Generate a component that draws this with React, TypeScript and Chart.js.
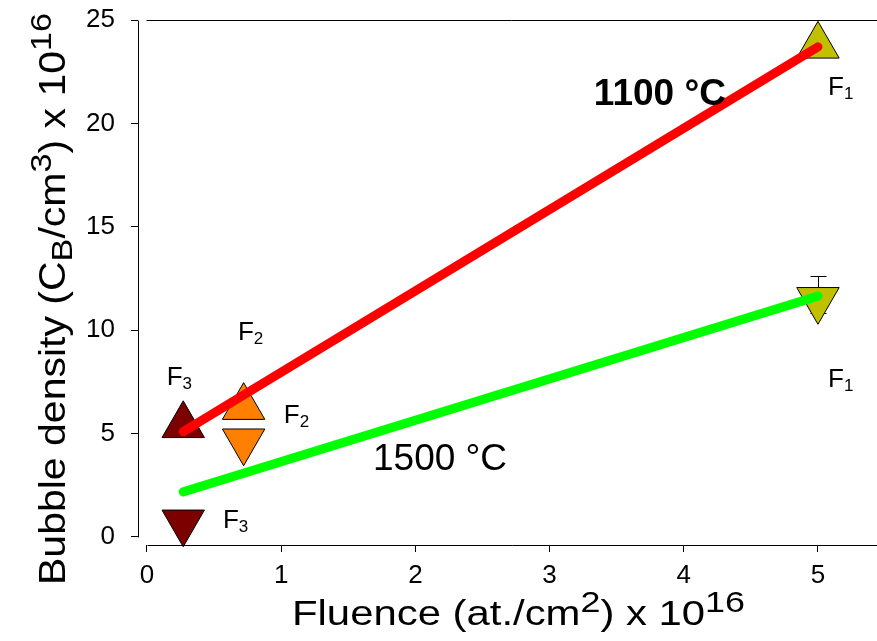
import React, { useEffect, useRef } from "react";
import { Chart, registerables } from "chart.js";
Chart.register(...registerables);

// ---- data ----
const xTicks = [0, 1, 2, 3, 4, 5];
const yTicks = [0, 5, 10, 15, 20, 25];

const line1100X = [0.27, 5.0];
const line1100Y = [5.1, 23.7];
const line1500X = [0.27, 5.0];
const line1500Y = [2.18, 11.65];

const markerNames = ["F1", "F2", "F3"];
const markerX = [5.0, 0.72, 0.27];
const markerUpY = [23.75, 6.28, 5.4];
const markerDownY = [11.47, 4.63, 0.71];
const markerColors = ["#c0c000", "#ff8000", "#7d0000"];

// error bar on F1 (down)
const errX = [5.0];
const errLow = [10.85];
const errHigh = [12.6];

// text labels (data coordinates: left, baseline)
const labelMain = ["F", "F", "F", "F", "F", "F"];
const labelSub = ["1", "1", "2", "2", "3", "3"];
const labelX = [5.075, 5.075, 0.678, 1.02, 0.147, 0.566];
const labelY = [21.37, 7.25, 9.53, 5.51, 7.35, 0.42];

const tempText = ["1100 °C", "1500 °C"];
const tempX = [3.33, 1.684];
const tempY = [20.9, 3.24];
const tempBold = [true, false];

const SANS = "'Liberation Sans', Arial, sans-serif";
const NARROW = "'Liberation Sans Narrow', 'Arial Narrow', 'Liberation Sans', sans-serif";

type Part = { t: string; size: number; dy: number; family: string; weight?: string };

function partsWidth(ctx: CanvasRenderingContext2D, parts: Part[]) {
  let w = 0;
  for (const p of parts) {
    ctx.font = `${p.weight || "normal"} ${p.size}px ${p.family}`;
    w += ctx.measureText(p.t).width;
  }
  return w;
}
function drawParts(ctx: CanvasRenderingContext2D, parts: Part[], x: number, y: number) {
  let cx = x;
  ctx.textAlign = "left";
  ctx.textBaseline = "alphabetic";
  for (const p of parts) {
    ctx.font = `${p.weight || "normal"} ${p.size}px ${p.family}`;
    ctx.fillText(p.t, cx, y + p.dy);
    cx += ctx.measureText(p.t).width;
  }
}

const decorPlugin = {
  id: "decor",
  beforeDatasetsDraw(chart: any) {
    const ctx = chart.ctx as CanvasRenderingContext2D;
    const xs = chart.scales.x;
    const ys = chart.scales.y;
    const ca = chart.chartArea;
    ctx.save();
    ctx.strokeStyle = "#000";
    ctx.lineWidth = 1;
    const x0 = Math.round(xs.getPixelForValue(0)) + 0.5;
    const yTop = Math.round(ys.getPixelForValue(yTicks[yTicks.length - 1])) + 0.5;
    const yZero = Math.round(ys.getPixelForValue(0)) + 0.5;
    ctx.beginPath();
    ctx.moveTo(Math.round(ca.left) + 0.5, yTop);
    ctx.lineTo(Math.round(ca.left) + 0.5, yZero);
    ctx.moveTo(x0 - 1, yTop);
    ctx.lineTo(ca.right, yTop);
    ctx.moveTo(x0, Math.round(ca.bottom) + 0.5);
    ctx.lineTo(ca.right, Math.round(ca.bottom) + 0.5);
    ctx.stroke();
    for (let i = 0; i < errX.length; i++) {
      const px = Math.round(xs.getPixelForValue(errX[i])) + 0.5;
      const pl = Math.round(ys.getPixelForValue(errLow[i])) + 0.5;
      const ph = Math.round(ys.getPixelForValue(errHigh[i])) + 0.5;
      ctx.beginPath();
      ctx.moveTo(px, pl);
      ctx.lineTo(px, ph);
      ctx.moveTo(px - 8, ph);
      ctx.lineTo(px + 8, ph);
      ctx.moveTo(px - 8, pl);
      ctx.lineTo(px + 8, pl);
      ctx.stroke();
    }
    ctx.restore();
  },
  afterDatasetsDraw(chart: any) {
    const ctx = chart.ctx as CanvasRenderingContext2D;
    const xs = chart.scales.x;
    const ys = chart.scales.y;
    ctx.save();
    ctx.fillStyle = "#000";
    for (let i = 0; i < labelMain.length; i++) {
      const px = xs.getPixelForValue(labelX[i]);
      const py = ys.getPixelForValue(labelY[i]);
      drawParts(ctx, [
        { t: labelMain[i], size: 26, dy: 0, family: NARROW },
        { t: labelSub[i], size: 17, dy: 4, family: NARROW },
      ], px, py);
    }
    for (let i = 0; i < tempText.length; i++) {
      const px = xs.getPixelForValue(tempX[i]);
      const py = ys.getPixelForValue(tempY[i]);
      drawParts(ctx, [
        { t: tempText[i], size: 37, dy: 0, family: SANS, weight: tempBold[i] ? "bold" : "normal" },
      ], px, py);
    }
    // axis titles
    const xt: Part[] = [
      { t: "Fluence (at./cm", size: 35, dy: 0, family: SANS },
      { t: "2", size: 30, dy: -13, family: SANS },
      { t: ") x 10", size: 35, dy: 0, family: SANS },
      { t: "16", size: 30, dy: -13, family: SANS },
    ];
    const xw = partsWidth(ctx, xt);
    const xTarget = 453;
    ctx.save();
    ctx.translate(518.5 - xTarget / 2, 625);
    ctx.scale(xTarget / xw, 1);
    drawParts(ctx, xt, 0, 0);
    ctx.restore();

    const yt: Part[] = [
      { t: "Bubble density (C", size: 36, dy: 0, family: SANS },
      { t: "B", size: 30, dy: 7, family: SANS },
      { t: "/cm", size: 36, dy: 0, family: SANS },
      { t: "3", size: 30, dy: -14, family: SANS },
      { t: ") x 10", size: 36, dy: 0, family: SANS },
      { t: "16", size: 30, dy: -14, family: SANS },
    ];
    const yw = partsWidth(ctx, yt);
    const yTarget = 572;
    ctx.save();
    ctx.translate(65, 299);
    ctx.rotate(-Math.PI / 2);
    ctx.translate(-yTarget / 2, 0);
    ctx.scale(yTarget / yw, 1);
    drawParts(ctx, yt, 0, 0);
    ctx.restore();
    ctx.restore();
  },
};

const noPad = (s: any) => {
  s.paddingTop = 0;
  s.paddingBottom = 0;
  s.paddingLeft = 0;
  s.paddingRight = 0;
};

export default function App() {
  const ref = useRef<HTMLCanvasElement | null>(null);
  useEffect(() => {
    if (!ref.current) return;
    const chart = new Chart(ref.current, {
      type: "scatter",
      data: {
        datasets: [
          {
            data: line1100X.map((x, i) => ({ x, y: line1100Y[i] })),
            showLine: true,
            borderColor: "#ff0000",
            borderWidth: 9,
            borderCapStyle: "round",
            pointRadius: 0,
            clip: false,
          } as any,
          {
            data: line1500X.map((x, i) => ({ x, y: line1500Y[i] })),
            showLine: true,
            borderColor: "#00ff00",
            borderWidth: 9,
            borderCapStyle: "round",
            pointRadius: 0,
            clip: false,
          } as any,
          {
            data: markerX.map((x, i) => ({ x, y: markerUpY[i] })),
            pointStyle: "triangle",
            pointRadius: 24.5,
            backgroundColor: markerColors,
            borderColor: "#000",
            borderWidth: 1,
            clip: false,
          } as any,
          {
            data: markerX.map((x, i) => ({ x, y: markerDownY[i] })),
            pointStyle: "triangle",
            rotation: 180,
            pointRadius: 24.5,
            backgroundColor: markerColors,
            borderColor: "#000",
            borderWidth: 1,
            clip: false,
          } as any,
        ],
      },
      options: {
        responsive: false,
        animation: false,
        devicePixelRatio: 1,
        layout: { autoPadding: false, padding: { top: 20, left: 0, right: 0, bottom: 0 } },
        plugins: { legend: { display: false }, tooltip: { enabled: false } },
        events: [],
        scales: {
          x: {
            type: "linear",
            min: -0.067,
            max: 5.44,
            afterBuildTicks: (s: any) => {
              s.ticks = xTicks.map((v) => ({ value: v }));
            },
            afterFit: (s: any) => {
              s.height = 96;
              noPad(s);
            },
            border: { display: false },
            grid: { drawOnChartArea: false, drawTicks: true, tickLength: 7, color: "#000", lineWidth: 1 },
            ticks: {
              color: "#000",
              font: { family: NARROW, size: 26 },
              padding: 8,
              maxRotation: 0,
              autoSkip: false,
            },
          },
          y: {
            type: "linear",
            min: -0.387,
            max: 25,
            afterBuildTicks: (s: any) => {
              s.ticks = yTicks.map((v) => ({ value: v }));
            },
            afterFit: (s: any) => {
              s.width = 138;
              noPad(s);
            },
            border: { display: false },
            grid: { drawOnChartArea: false, drawTicks: true, tickLength: 7, color: "#000", lineWidth: 1 },
            ticks: {
              color: "#000",
              font: { family: SANS, size: 26 },
              padding: 16,
              autoSkip: false,
            },
          },
        },
      },
      plugins: [decorPlugin],
    } as any);
    return () => chart.destroy();
  }, []);
  return (
    <div style={{ position: "absolute", left: 0, top: 0, width: 877, height: 641, background: "#fff" }}>
      <canvas ref={ref} width={877} height={641} style={{ display: "block" }} />
    </div>
  );
}
